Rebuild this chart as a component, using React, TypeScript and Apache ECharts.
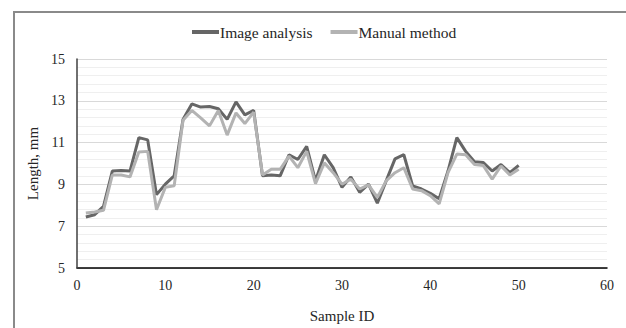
import React, { useEffect, useRef } from "react";
import * as echarts from "echarts";

const sampleIds = [
  1, 2, 3, 4, 5, 6, 7, 8, 9, 10, 11, 12, 13, 14, 15, 16, 17, 18, 19, 20, 21, 22, 23, 24, 25,
  26, 27, 28, 29, 30, 31, 32, 33, 34, 35, 36, 37, 38, 39, 40, 41, 42, 43, 44, 45, 46, 47, 48, 49, 50,
];

const imageAnalysis = [
  7.44, 7.55, 7.95, 9.64, 9.67, 9.64, 11.24, 11.13, 8.51, 9.01,
  9.41, 12.11, 12.85, 12.7, 12.73, 12.62, 12.11, 12.95, 12.33, 12.54,
  9.41, 9.45, 9.41, 10.42, 10.19, 10.82, 9.17, 10.42, 9.8, 8.86,
  9.36, 8.62, 9.01, 8.1, 9.17, 10.22, 10.42, 8.93, 8.78, 8.57,
  8.31, 9.64, 11.24, 10.58, 10.08, 10.05, 9.64, 9.95, 9.56, 9.91,
];

const manualMethod = [
  7.63, 7.68, 7.76, 9.45, 9.45, 9.36, 10.55, 10.58, 7.79, 8.86,
  8.93, 12.07, 12.54, 12.18, 11.8, 12.54, 11.36, 12.42, 11.91, 12.46,
  9.45, 9.72, 9.72, 10.35, 9.8, 10.58, 9.04, 10.03, 9.56, 9.01,
  9.25, 8.78, 8.98, 8.38, 9.17, 9.56, 9.8, 8.78, 8.7, 8.46,
  8.07, 9.56, 10.45, 10.42, 9.95, 9.9, 9.25, 9.88, 9.45, 9.72,
];

const FONT = "'Liberation Serif', 'Times New Roman', serif";
const TEXT = "#262626";

export default function App() {
  const ref = useRef<HTMLDivElement>(null);
  useEffect(() => {
    document.body.style.margin = "0";
    if (!ref.current) return;
    const chart = echarts.init(ref.current, undefined, { renderer: "svg" });
    const toPairs = (vals: number[]) => sampleIds.map((id, i) => [id, vals[i]]);
    chart.setOption({
      animation: false,
      backgroundColor: "transparent",
      textStyle: { fontFamily: FONT },
      legend: {
        top: 19,
        left: 187,
        icon: "rect",
        itemWidth: 27,
        itemHeight: 4,
        itemGap: 18,
        textStyle: { fontFamily: FONT, fontSize: 15.5, color: TEXT, padding: [0, 0, 0, -4] },
        data: ["Image analysis", "Manual method"],
      },
      grid: { left: 77, right: 19, top: 59, bottom: 56, containLabel: false },
      xAxis: {
        type: "value",
        min: 0,
        max: 60,
        interval: 10,
        name: "Sample ID",
        nameLocation: "middle",
        nameGap: 40,
        nameTextStyle: { fontFamily: FONT, fontSize: 15, color: TEXT },
        axisLine: { show: true, lineStyle: { color: "#000000", width: 1.5 } },
        axisTick: { show: false },
        splitLine: { show: false },
        axisLabel: { fontFamily: FONT, fontSize: 14, color: TEXT, margin: 10 },
      },
      yAxis: [
        {
          type: "value",
          min: 5,
          max: 15,
          interval: 1,
          name: "Length, mm",
          nameLocation: "middle",
          nameGap: 31,
          nameTextStyle: { fontFamily: FONT, fontSize: 15, color: TEXT },
          axisLine: { show: true, lineStyle: { color: "#404040", width: 1.5 } },
          axisTick: { show: false },
          splitLine: { show: false },
          axisLabel: {
            fontFamily: FONT,
            fontSize: 14,
            color: TEXT,
            margin: 12,
            formatter: (v: number) => (Math.round(v) % 2 === 1 ? String(Math.round(v)) : ""),
          },
          z: 5,
        },
        {
          type: "value",
          min: 0,
          max: 10,
          interval: 0.4,
          axisLine: { show: false },
          axisTick: { show: false },
          axisLabel: { show: false },
          splitLine: { show: true, lineStyle: { color: "#efefef", width: 1 } },
        },
        {
          type: "value",
          min: 0,
          max: 10,
          interval: 2,
          axisLine: { show: false },
          axisTick: { show: false },
          axisLabel: { show: false },
          splitLine: { show: true, lineStyle: { color: "#d9d9d9", width: 1 } },
        },
      ],
      series: [
        {
          name: "Image analysis",
          type: "line",
          yAxisIndex: 0,
          data: toPairs(imageAnalysis),
          symbol: "none",
          lineStyle: { color: "#666666", width: 3 },
          itemStyle: { color: "#666666" },
        },
        {
          name: "Manual method",
          type: "line",
          yAxisIndex: 0,
          data: toPairs(manualMethod),
          symbol: "none",
          lineStyle: { color: "#b3b3b3", width: 3 },
          itemStyle: { color: "#b3b3b3" },
        },
      ],
    });
    return () => chart.dispose();
  }, []);
  return (
    <div
      style={{
        position: "absolute",
        left: 0,
        top: 0,
        width: 626,
        height: 328,
        overflow: "hidden",
        background: "#ffffff",
      }}
    >
      <div
        style={{
          position: "absolute",
          left: 13,
          top: 11,
          width: 700,
          height: 400,
          borderTop: "2px solid #8a8a8a",
          borderLeft: "2px solid #8a8a8a",
          boxSizing: "border-box",
        }}
      />
      <div ref={ref} style={{ position: "absolute", left: 0, top: 0, width: 626, height: 328 }} />
    </div>
  );
}
